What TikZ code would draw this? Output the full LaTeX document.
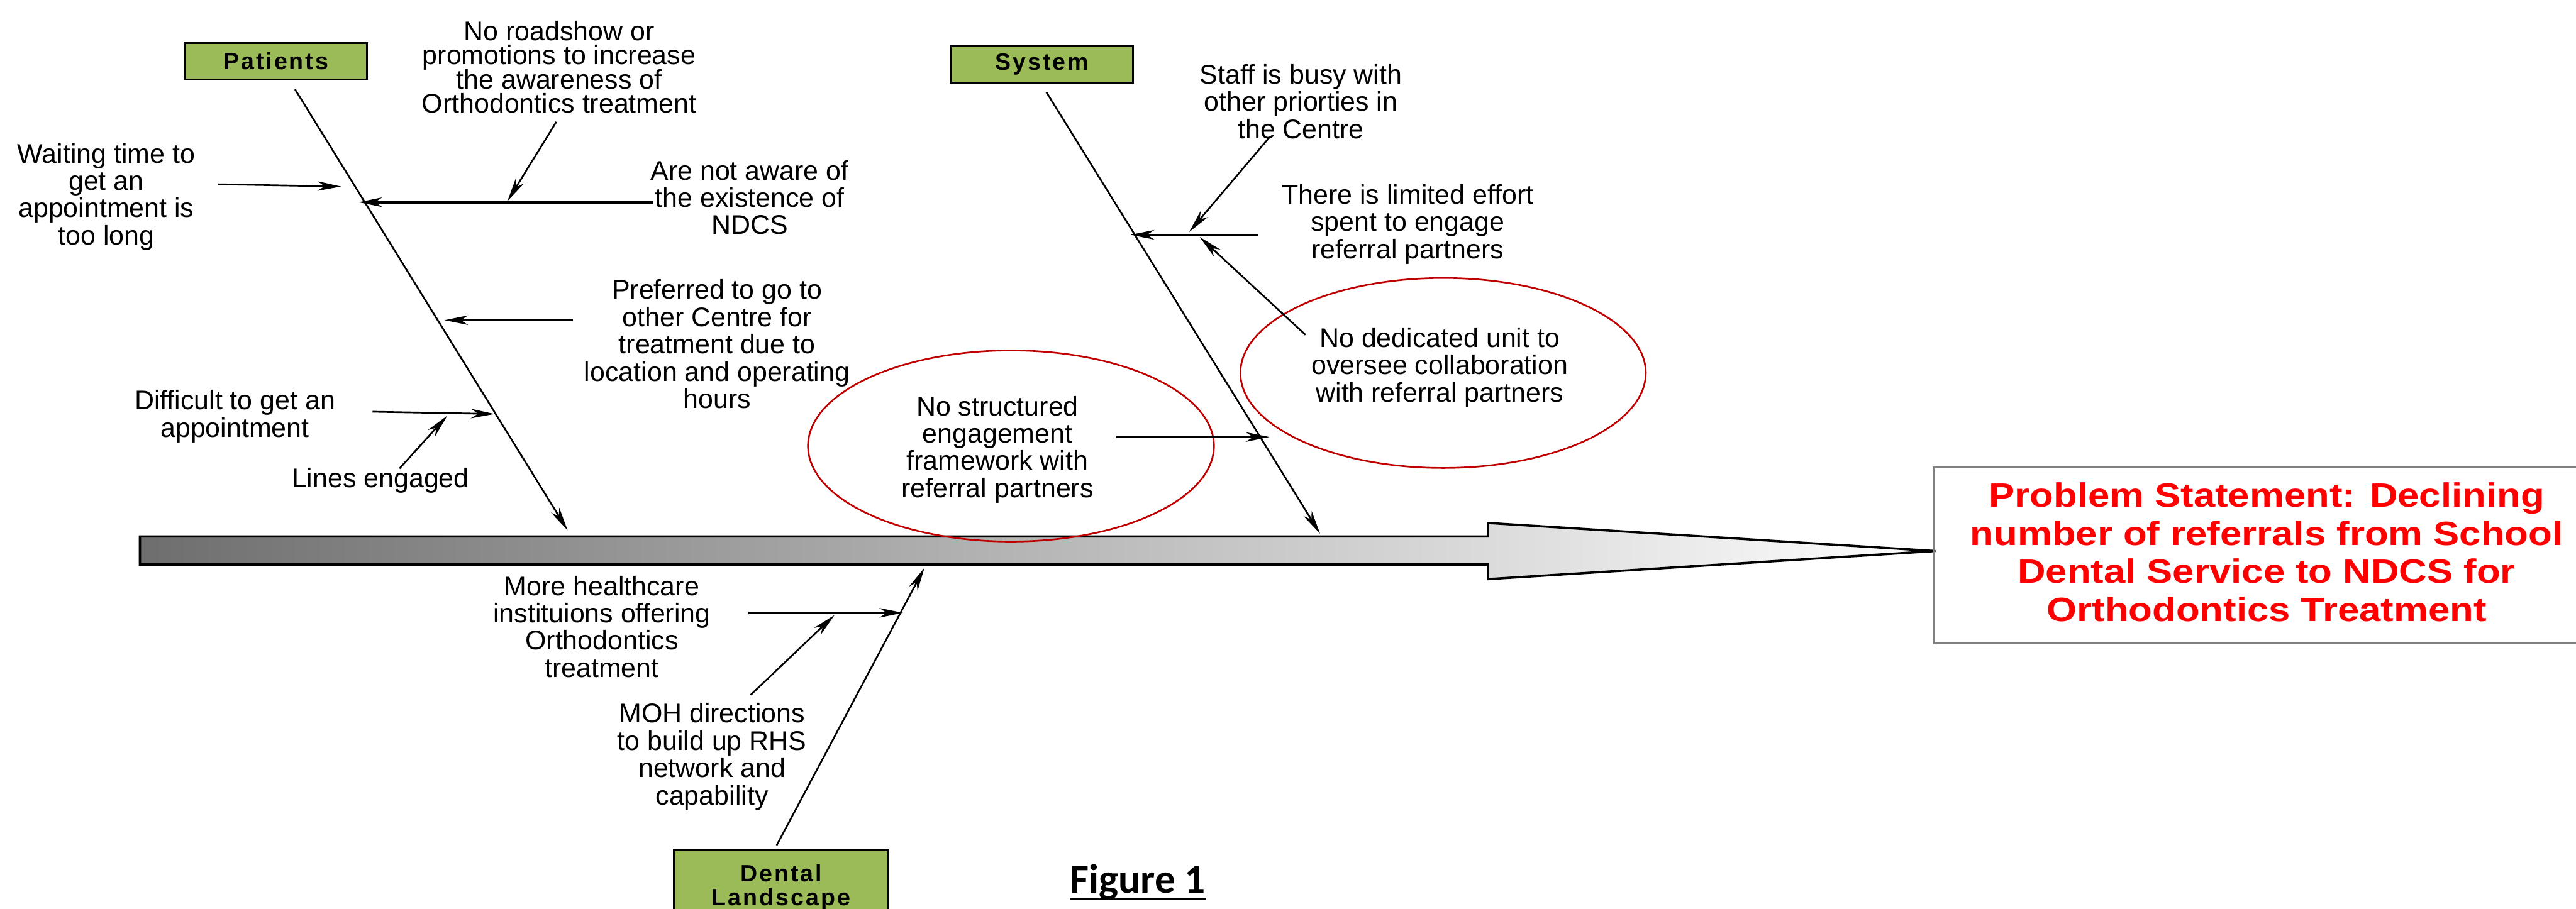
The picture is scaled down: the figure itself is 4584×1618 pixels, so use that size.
\documentclass[tikz,border=0pt]{standalone}
\usepackage{fontspec}
\setmainfont{Liberation Sans}
\newfontfamily\titlefont{Liberation Sans}[FakeStretch=1.15]
\newfontfamily\catfont{Liberation Sans}[LetterSpace=8]
\newfontfamily\figfont{Carlito}
\usetikzlibrary{arrows.meta,shapes.geometric,calc}
\definecolor{catgreen}{HTML}{9BBB59}
\definecolor{ellred}{HTML}{C00000}
\definecolor{boxgray}{HTML}{808080}
\definecolor{spineL}{HTML}{6E6E6E}
\definecolor{spineR}{HTML}{FFFFFF}
\newcommand\myTop{\rule{0pt}{0.75em}}
\newcommand\myBot{\rule[-0.22em]{0pt}{0.22em}}
\setlength{\lineskiplimit}{-100pt}
\begin{document}
\begin{tikzpicture}[x=0.01cm,y=-0.01cm,
  txt/.style={align=center,inner sep=0pt,font={\lineskiplimit=-100pt\fontsize{13.66pt}{13.8pt}\selectfont}},
  arr/.style={line width=0.03cm,-{Stealth[length=0.42cm,width=0.17cm,inset=0.13cm]}},
  thickarr/.style={arr,line width=0.042cm},
  bone/.style={arr},
  catbox/.style={draw=black,line width=0.03cm,fill=catgreen,inner sep=0pt,align=center,
    font={\lineskiplimit=-100pt\catfont\fontsize{11.95pt}{12.24pt}\bfseries}},
  ell/.style={draw=ellred,line width=0.03cm,ellipse,inner sep=0pt},
]
\clip (0,0) rectangle (4584,1618);
\fill[white] (0,0) rectangle (4584,1618);

% spine
\shadedraw[left color=spineL, right color=spineR, line width=0.04cm, line join=miter]
  (249,955) -- (2648,955) -- (2648,931) -- (3444,981) -- (2648,1031) -- (2648,1005) -- (249,1005) -- cycle;

% problem statement
\node[draw=boxgray, line width=0.03cm, minimum width=11.85cm, minimum height=3.13cm, inner sep=0pt,
  align=center, text=red, font={\lineskiplimit=-100pt\titlefont\fontsize{17.07pt}{19.35pt}\bfseries}]
  (prob) at (4033.5,988.5)
  {\myTop Problem Statement: Declining\\number of referrals from School\\Dental Service to NDCS for\\Orthodontics Treatment\myBot};

% category boxes
\node[catbox, minimum width=3.24cm, minimum height=0.64cm] (patients) at (491,109) {Patients};
\node[catbox, minimum width=3.24cm, minimum height=0.65cm] (system) at (1854,114.5) {System};
\node[catbox, minimum width=3.82cm, minimum height=1.32cm] (dental) at (1390,1580) {\myTop Dental\\Landscape\myBot};

% ellipses
\node[ell, minimum width=7.22cm, minimum height=3.40cm] (estruct) at (1799,794) {};
\node[ell, minimum width=7.21cm, minimum height=3.38cm] (eunit) at (2568,664) {};

% texts
\node[txt, font={\lineskiplimit=-100pt\fontsize{13.66pt}{12.24pt}\selectfont}] (troad) at (995,124)
  {\myTop No roadshow or\\promotions to increase\\the awareness of\\Orthodontics treatment\myBot};
\node[txt] (taware) at (1334,356) {\myTop Are not aware of\\the existence of\\NDCS\myBot};
\node[txt] (twait) at (189,350) {\myTop Waiting time to\\get an\\appointment is\\too long\myBot};
\node[txt] (tpref) at (1276,617) {\myTop Preferred to go to\\other Centre for\\treatment due to\\location and operating\\hours\myBot};
\node[txt] (tdiff) at (418,741) {\myTop Difficult to get an\\appointment\myBot};
\node[txt] (tlines) at (677,855) {\myTop Lines engaged\myBot};
\node[txt] (tstaff) at (2315,185) {\myTop Staff is busy with\\other priorties in\\the Centre\myBot};
\node[txt] (teffort) at (2505,399) {\myTop There is limited effort\\spent to engage\\referral partners\myBot};
\node[txt] (tunit) at (2562,654) {\myTop No dedicated unit to\\oversee collaboration\\with referral partners\myBot};
\node[txt] (tstruct) at (1775,800) {\myTop No structured\\engagement\\framework with\\referral partners\myBot};
\node[txt] (tmore) at (1071,1120) {\myTop More healthcare\\instituions offering\\Orthodontics\\treatment\myBot};
\node[txt] (tmoh) at (1267,1347) {\myTop MOH directions\\to build up RHS\\network and\\capability\myBot};

% figure caption
\node[font=\figfont\fontsize{20.78pt}{24pt}\bfseries, inner sep=0pt, anchor=base] (fig) at (2025,1590) {Figure 1};
\draw[line width=0.045cm] ($(fig.base west)+(0,10)$) -- ($(fig.base east)+(0,10)$);

% coordinates
\coordinate (b1s) at (525,159);  \coordinate (b1e) at (1010,944);
\coordinate (b2s) at (1862,164); \coordinate (b2e) at (2349,950);
\coordinate (b3s) at (1382,1505); \coordinate (b3e) at (1645,1011);
\coordinate (a1s) at (388,328);  \coordinate (a1e) at (607,332);
\coordinate (a2s) at (1163,360); \coordinate (a2e) at (638,360);
\coordinate (a3s) at (990,217);  \coordinate (a3e) at (903,358);
\coordinate (a4s) at (1020,570); \coordinate (a4e) at (791,570);
\coordinate (a5s) at (663,733);  \coordinate (a5e) at (880,737);
\coordinate (a6s) at (711,834);  \coordinate (a6e) at (796,740);
\coordinate (a7s) at (2261,242); \coordinate (a7e) at (2116,413);
\coordinate (a8s) at (2238,418); \coordinate (a8e) at (2012,418);
\coordinate (a9s) at (2323,596); \coordinate (a9e) at (2135,422);
\coordinate (a10s) at (1986,778); \coordinate (a10e) at (2259,778);
\coordinate (a11s) at (1332,1091); \coordinate (a11e) at (1607,1091);
\coordinate (a12s) at (1336,1237); \coordinate (a12e) at (1485,1095);

% bones
\draw[bone] (b1s) -- (b1e);
\draw[bone] (b2s) -- (b2e);
\draw[bone] (b3s) -- (b3e);

% cause arrows
\draw[arr] (a1s) -- (a1e);
\draw[thickarr] (a2s) -- (a2e);
\draw[arr] (a3s) -- (a3e);
\draw[arr] (a4s) -- (a4e);
\draw[arr] (a5s) -- (a5e);
\draw[arr] (a6s) -- (a6e);
\draw[arr] (a7s) -- (a7e);
\draw[thickarr] (a8s) -- (a8e);
\draw[arr] (a9s) -- (a9e);
\draw[thickarr] (a10s) -- (a10e);
\draw[thickarr] (a11s) -- (a11e);
\draw[arr] (a12s) -- (a12e);
\end{tikzpicture}
\end{document}
